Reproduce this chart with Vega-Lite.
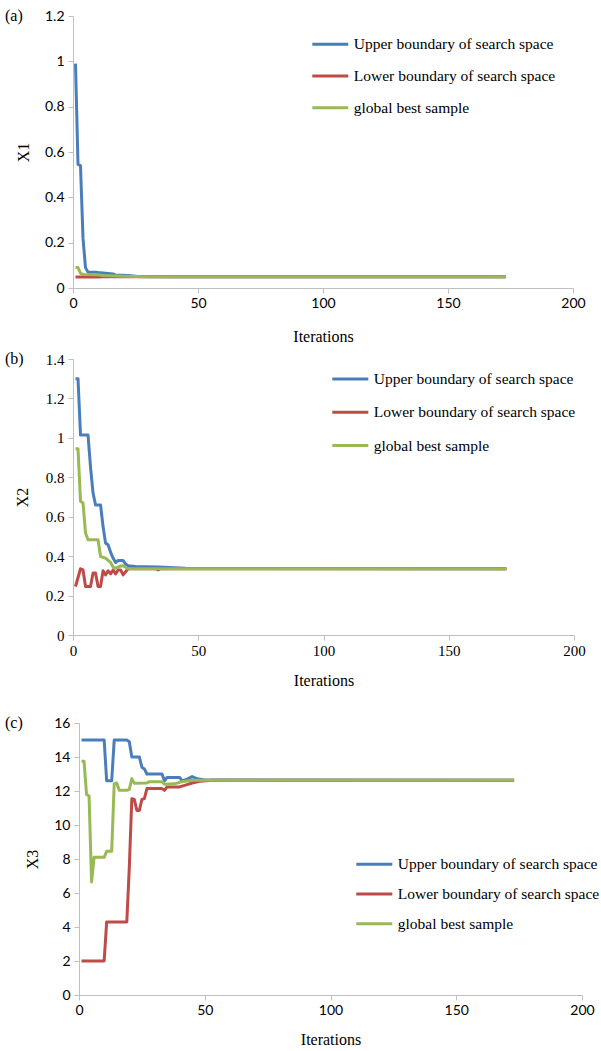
{
  "$schema": "https://vega.github.io/schema/vega-lite/v6.json",
  "background": "white",
  "padding": {"left": 5, "top": 8, "right": 0, "bottom": 0},
  "config": {
    "view": {"stroke": null},
    "axis": {"grid": false, "domainColor": "#BFBFBF", "tickColor": "#BFBFBF", "tickSize": 5, "labelColor": "#000000", "labelFont": "Lato", "labelFontSize": 14, "labelFlush": false, "titleFont": "Liberation Serif", "titleFontWeight": "normal", "titleFontSize": 16, "titleColor": "#000000"},
    "legend": {"symbolType": "stroke", "symbolStrokeWidth": 3, "symbolSize": 1296, "labelFont": "Liberation Serif", "labelFontSize": 15.5, "labelColor": "#000000", "labelOffset": 4, "rowPadding": 0, "title": null, "labelLimit": 400},
    "title": {"font": "Liberation Serif", "fontSize": 16, "fontWeight": "normal", "color": "#000000"}
  },
  "datasets": {
    "x1": [
      {"it": 1, "s": "Upper boundary of search space", "v": 0.99},
      {"it": 2, "s": "Upper boundary of search space", "v": 0.545},
      {"it": 3, "s": "Upper boundary of search space", "v": 0.54},
      {"it": 4, "s": "Upper boundary of search space", "v": 0.22},
      {"it": 5, "s": "Upper boundary of search space", "v": 0.09},
      {"it": 6, "s": "Upper boundary of search space", "v": 0.07},
      {"it": 9, "s": "Upper boundary of search space", "v": 0.07},
      {"it": 10, "s": "Upper boundary of search space", "v": 0.068},
      {"it": 13, "s": "Upper boundary of search space", "v": 0.065},
      {"it": 16, "s": "Upper boundary of search space", "v": 0.062},
      {"it": 17, "s": "Upper boundary of search space", "v": 0.057},
      {"it": 22, "s": "Upper boundary of search space", "v": 0.055},
      {"it": 26, "s": "Upper boundary of search space", "v": 0.051},
      {"it": 40, "s": "Upper boundary of search space", "v": 0.05},
      {"it": 173, "s": "Upper boundary of search space", "v": 0.05},
      {"it": 1, "s": "Lower boundary of search space", "v": 0.048},
      {"it": 10, "s": "Lower boundary of search space", "v": 0.048},
      {"it": 12, "s": "Lower boundary of search space", "v": 0.05},
      {"it": 173, "s": "Lower boundary of search space", "v": 0.05},
      {"it": 1, "s": "global best sample", "v": 0.09},
      {"it": 2, "s": "global best sample", "v": 0.09},
      {"it": 3, "s": "global best sample", "v": 0.065},
      {"it": 4, "s": "global best sample", "v": 0.06},
      {"it": 10, "s": "global best sample", "v": 0.058},
      {"it": 12, "s": "global best sample", "v": 0.055},
      {"it": 20, "s": "global best sample", "v": 0.052},
      {"it": 30, "s": "global best sample", "v": 0.05},
      {"it": 173, "s": "global best sample", "v": 0.05}
    ],
    "x2": [
      {"it": 1, "s": "Upper boundary of search space", "v": 1.3},
      {"it": 2, "s": "Upper boundary of search space", "v": 1.3},
      {"it": 3, "s": "Upper boundary of search space", "v": 1.014},
      {"it": 6, "s": "Upper boundary of search space", "v": 1.014},
      {"it": 7, "s": "Upper boundary of search space", "v": 0.85},
      {"it": 8, "s": "Upper boundary of search space", "v": 0.72},
      {"it": 9, "s": "Upper boundary of search space", "v": 0.66},
      {"it": 11, "s": "Upper boundary of search space", "v": 0.66},
      {"it": 12, "s": "Upper boundary of search space", "v": 0.55},
      {"it": 13, "s": "Upper boundary of search space", "v": 0.466},
      {"it": 14, "s": "Upper boundary of search space", "v": 0.458},
      {"it": 15, "s": "Upper boundary of search space", "v": 0.42},
      {"it": 16, "s": "Upper boundary of search space", "v": 0.39},
      {"it": 17, "s": "Upper boundary of search space", "v": 0.368},
      {"it": 18, "s": "Upper boundary of search space", "v": 0.378},
      {"it": 20, "s": "Upper boundary of search space", "v": 0.378},
      {"it": 21, "s": "Upper boundary of search space", "v": 0.36},
      {"it": 22, "s": "Upper boundary of search space", "v": 0.351},
      {"it": 25, "s": "Upper boundary of search space", "v": 0.347},
      {"it": 34, "s": "Upper boundary of search space", "v": 0.345},
      {"it": 45, "s": "Upper boundary of search space", "v": 0.338},
      {"it": 173, "s": "Upper boundary of search space", "v": 0.336},
      {"it": 1, "s": "Lower boundary of search space", "v": 0.246},
      {"it": 3, "s": "Lower boundary of search space", "v": 0.336},
      {"it": 4, "s": "Lower boundary of search space", "v": 0.33},
      {"it": 5, "s": "Lower boundary of search space", "v": 0.246},
      {"it": 7, "s": "Lower boundary of search space", "v": 0.246},
      {"it": 8, "s": "Lower boundary of search space", "v": 0.314},
      {"it": 9, "s": "Lower boundary of search space", "v": 0.314},
      {"it": 10, "s": "Lower boundary of search space", "v": 0.246},
      {"it": 11, "s": "Lower boundary of search space", "v": 0.246},
      {"it": 12, "s": "Lower boundary of search space", "v": 0.326},
      {"it": 13, "s": "Lower boundary of search space", "v": 0.305},
      {"it": 14, "s": "Lower boundary of search space", "v": 0.326},
      {"it": 15, "s": "Lower boundary of search space", "v": 0.31},
      {"it": 16, "s": "Lower boundary of search space", "v": 0.33},
      {"it": 17, "s": "Lower boundary of search space", "v": 0.31},
      {"it": 18, "s": "Lower boundary of search space", "v": 0.33},
      {"it": 19, "s": "Lower boundary of search space", "v": 0.33},
      {"it": 20, "s": "Lower boundary of search space", "v": 0.305},
      {"it": 22, "s": "Lower boundary of search space", "v": 0.336},
      {"it": 33, "s": "Lower boundary of search space", "v": 0.336},
      {"it": 34, "s": "Lower boundary of search space", "v": 0.33},
      {"it": 35, "s": "Lower boundary of search space", "v": 0.336},
      {"it": 173, "s": "Lower boundary of search space", "v": 0.336},
      {"it": 1, "s": "global best sample", "v": 0.945},
      {"it": 2, "s": "global best sample", "v": 0.945},
      {"it": 3, "s": "global best sample", "v": 0.678},
      {"it": 4, "s": "global best sample", "v": 0.67},
      {"it": 5, "s": "global best sample", "v": 0.517},
      {"it": 6, "s": "global best sample", "v": 0.483},
      {"it": 10, "s": "global best sample", "v": 0.483},
      {"it": 11, "s": "global best sample", "v": 0.398},
      {"it": 13, "s": "global best sample", "v": 0.39},
      {"it": 15, "s": "global best sample", "v": 0.368},
      {"it": 16, "s": "global best sample", "v": 0.345},
      {"it": 17, "s": "global best sample", "v": 0.339},
      {"it": 19, "s": "global best sample", "v": 0.35},
      {"it": 20, "s": "global best sample", "v": 0.351},
      {"it": 22, "s": "global best sample", "v": 0.336},
      {"it": 173, "s": "global best sample", "v": 0.336}
    ],
    "x3": [
      {"it": 1, "s": "Upper boundary of search space", "v": 15},
      {"it": 10, "s": "Upper boundary of search space", "v": 15},
      {"it": 11, "s": "Upper boundary of search space", "v": 12.6},
      {"it": 13, "s": "Upper boundary of search space", "v": 12.6},
      {"it": 14, "s": "Upper boundary of search space", "v": 15},
      {"it": 19, "s": "Upper boundary of search space", "v": 15},
      {"it": 20, "s": "Upper boundary of search space", "v": 14.9},
      {"it": 21, "s": "Upper boundary of search space", "v": 14.0},
      {"it": 24, "s": "Upper boundary of search space", "v": 14.0},
      {"it": 25, "s": "Upper boundary of search space", "v": 13.4},
      {"it": 26, "s": "Upper boundary of search space", "v": 13.3},
      {"it": 27, "s": "Upper boundary of search space", "v": 13.0},
      {"it": 33, "s": "Upper boundary of search space", "v": 13.0},
      {"it": 34, "s": "Upper boundary of search space", "v": 12.6},
      {"it": 35, "s": "Upper boundary of search space", "v": 12.8},
      {"it": 40, "s": "Upper boundary of search space", "v": 12.8},
      {"it": 41, "s": "Upper boundary of search space", "v": 12.6},
      {"it": 43, "s": "Upper boundary of search space", "v": 12.7},
      {"it": 45, "s": "Upper boundary of search space", "v": 12.85},
      {"it": 47, "s": "Upper boundary of search space", "v": 12.72},
      {"it": 50, "s": "Upper boundary of search space", "v": 12.65},
      {"it": 173, "s": "Upper boundary of search space", "v": 12.63},
      {"it": 1, "s": "Lower boundary of search space", "v": 2},
      {"it": 10, "s": "Lower boundary of search space", "v": 2},
      {"it": 11, "s": "Lower boundary of search space", "v": 4.3},
      {"it": 19, "s": "Lower boundary of search space", "v": 4.3},
      {"it": 20, "s": "Lower boundary of search space", "v": 7.5},
      {"it": 21, "s": "Lower boundary of search space", "v": 11.55},
      {"it": 22, "s": "Lower boundary of search space", "v": 11.5},
      {"it": 23, "s": "Lower boundary of search space", "v": 10.86},
      {"it": 24, "s": "Lower boundary of search space", "v": 10.86},
      {"it": 25, "s": "Lower boundary of search space", "v": 11.5},
      {"it": 26, "s": "Lower boundary of search space", "v": 11.55},
      {"it": 27, "s": "Lower boundary of search space", "v": 12.14},
      {"it": 33, "s": "Lower boundary of search space", "v": 12.14},
      {"it": 34, "s": "Lower boundary of search space", "v": 12.04},
      {"it": 35, "s": "Lower boundary of search space", "v": 12.24},
      {"it": 40, "s": "Lower boundary of search space", "v": 12.24},
      {"it": 42, "s": "Lower boundary of search space", "v": 12.33},
      {"it": 45, "s": "Lower boundary of search space", "v": 12.47},
      {"it": 48, "s": "Lower boundary of search space", "v": 12.57},
      {"it": 53, "s": "Lower boundary of search space", "v": 12.63},
      {"it": 173, "s": "Lower boundary of search space", "v": 12.63},
      {"it": 1, "s": "global best sample", "v": 13.75},
      {"it": 2, "s": "global best sample", "v": 13.75},
      {"it": 3, "s": "global best sample", "v": 11.8},
      {"it": 4, "s": "global best sample", "v": 11.7},
      {"it": 5, "s": "global best sample", "v": 6.65},
      {"it": 6, "s": "global best sample", "v": 8.1},
      {"it": 10, "s": "global best sample", "v": 8.1},
      {"it": 11, "s": "global best sample", "v": 8.45},
      {"it": 13, "s": "global best sample", "v": 8.45},
      {"it": 14, "s": "global best sample", "v": 12.43},
      {"it": 15, "s": "global best sample", "v": 12.47},
      {"it": 16, "s": "global best sample", "v": 12.04},
      {"it": 19, "s": "global best sample", "v": 12.04},
      {"it": 20, "s": "global best sample", "v": 12.1},
      {"it": 21, "s": "global best sample", "v": 12.73},
      {"it": 22, "s": "global best sample", "v": 12.45},
      {"it": 27, "s": "global best sample", "v": 12.47},
      {"it": 28, "s": "global best sample", "v": 12.55},
      {"it": 33, "s": "global best sample", "v": 12.55},
      {"it": 34, "s": "global best sample", "v": 12.4},
      {"it": 38, "s": "global best sample", "v": 12.42},
      {"it": 41, "s": "global best sample", "v": 12.55},
      {"it": 45, "s": "global best sample", "v": 12.63},
      {"it": 173, "s": "global best sample", "v": 12.63}
    ]
  },
  "resolve": {"scale": {"color": "independent"}, "legend": {"color": "independent"}},
  "columns": 1,
  "align": "none",
  "spacing": 27,
  "concat": [
    {
      "columns": 1,
      "align": "none",
      "spacing": 7,
      "resolve": {"scale": {"color": "independent"}, "legend": {"color": "independent"}},
      "concat": [
        {
          "width": 500, "height": 272,
          "title": {"text": "(a)", "orient": "top", "anchor": "start", "frame": "group", "dx": -68, "baseline": "middle", "offset": -23},
          "data": {"name": "x1"},
          "mark": {"type": "line", "strokeWidth": 3, "strokeJoin": "round"},
          "encoding": {
            "x": {"field": "it", "type": "quantitative", "scale": {"domain": [0, 200], "nice": false}, "axis": {"values": [0, 50, 100, 150, 200], "title": "Iterations", "labelPadding": 3, "titlePadding": 18}},
            "y": {"field": "v", "type": "quantitative", "scale": {"domain": [0, 1.2], "nice": false}, "axis": {"values": [0, 0.2, 0.4, 0.6, 0.8, 1, 1.2], "format": "~g", "title": "X1", "labelPadding": 4, "titlePadding": 13}},
            "color": {"field": "s", "type": "nominal", "sort": null, "scale": {"domain": ["Upper boundary of search space", "Lower boundary of search space", "global best sample"], "range": ["#4A7EBB", "#BE4B48", "#98B954"]}, "legend": {"orient": "none", "legendX": 237.8, "legendY": 8.8, "rowPadding": 3.7}}
          }
        },
        {
          "width": 501, "height": 276,
          "title": {"text": "(b)", "orient": "top", "anchor": "start", "frame": "group", "dx": -68, "baseline": "middle", "offset": -23},
          "data": {"name": "x2"},
          "mark": {"type": "line", "strokeWidth": 3, "strokeJoin": "round"},
          "encoding": {
            "x": {"field": "it", "type": "quantitative", "scale": {"domain": [0, 200], "nice": false}, "axis": {"values": [0, 50, 100, 150, 200], "title": "Iterations", "labelFont": "Liberation Serif", "labelFontSize": 15, "labelPadding": 3, "titlePadding": 14}},
            "y": {"field": "v", "type": "quantitative", "scale": {"domain": [0, 1.4], "nice": false}, "axis": {"values": [0, 0.2, 0.4, 0.6, 0.8, 1, 1.2, 1.4], "format": "~g", "title": "X2", "labelFont": "Liberation Serif", "labelFontSize": 15, "labelPadding": 4, "titlePadding": 15}},
            "color": {"field": "s", "type": "nominal", "sort": null, "scale": {"domain": ["Upper boundary of search space", "Lower boundary of search space", "global best sample"], "range": ["#4A7EBB", "#BE4B48", "#98B954"]}, "legend": {"orient": "none", "legendX": 257.8, "legendY": 0.5, "rowPadding": 5.3}}
          }
        }
      ]
    },
    {
      "width": 509, "height": 272,
      "title": {"text": "(c)", "orient": "top", "anchor": "start", "frame": "group", "dx": -68, "baseline": "middle", "offset": -23},
      "data": {"name": "x3"},
      "mark": {"type": "line", "strokeWidth": 3, "strokeJoin": "round"},
      "encoding": {
        "x": {"field": "it", "type": "quantitative", "scale": {"domain": [0, 200], "nice": false, "range": [6, 509]}, "axis": {"values": [0, 50, 100, 150, 200], "title": "Iterations", "labelPadding": 3, "titlePadding": 14}},
        "y": {"field": "v", "type": "quantitative", "scale": {"domain": [0, 16], "nice": false}, "axis": {"values": [0, 2, 4, 6, 8, 10, 12, 14, 16], "format": "~g", "title": "X3", "labelPadding": 4, "titlePadding": 13, "offset": -6}},
        "color": {"field": "s", "type": "nominal", "sort": null, "scale": {"domain": ["Upper boundary of search space", "Lower boundary of search space", "global best sample"], "range": ["#4A7EBB", "#BE4B48", "#98B954"]}, "legend": {"orient": "none", "legendX": 281.8, "legendY": 121.8, "rowPadding": 1.7}}
      }
    }
  ]
}
